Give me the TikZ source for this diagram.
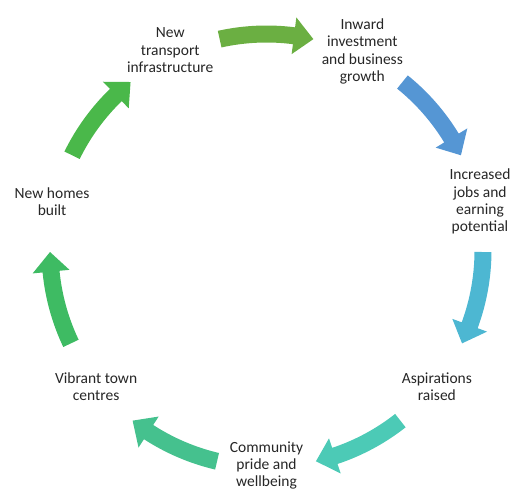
\documentclass[tikz,border=0pt]{standalone}
\usepackage{fontspec}
\setmainfont{Carlito}
\usetikzlibrary{calc}

\definecolor{arrowA}{HTML}{6BAF42}
\definecolor{arrowB}{HTML}{5596D4}
\definecolor{arrowC}{HTML}{4DB7D2}
\definecolor{arrowD}{HTML}{4CCAB6}
\definecolor{arrowE}{HTML}{45C18E}
\definecolor{arrowF}{HTML}{3EBB63}
\definecolor{arrowG}{HTML}{4AB84A}

\tikzstyle{stage} = [text=black!85, align=center, inner sep=1pt,
  font=\fontsize{15.5}{17.4}\selectfont]

% block arrow along the ring: colour, tail angle, tip angle
\newcommand{\cyclearrow}[3]{%
  \fill [#1] ($(c)+(#2:225)$) arc [start angle=#2, end angle=#3+5.2, radius=225]
    -- ($(c)+(#3+5.2:235)$) -- ($(c)+(#3:216.5)$) -- ($(c)+(#3+5.2:198)$)
    -- ($(c)+(#3+5.2:208)$) arc [start angle=#3+5.2, end angle=#2, radius=208] -- cycle;}

\begin{document}
\begin{tikzpicture}[x=1pt,y=1pt]

  \useasboundingbox (0,0) rectangle (512,491);
  \coordinate (c) at (266.5,240.5);

  \node [stage] (community) at ($(c)+(270:215)$) {Community\\pride and\\wellbeing};
  \node [stage] (aspire) at ($(c)+(321.4:218)$) {Aspirations\\raised};
  \node [stage] (jobs) at ($(c)+(12.9:219)$) {Increased\\jobs and\\earning\\potential};
  \node [stage] (invest) at ($(c)+(64.3:221)$) {Inward\\investment\\and business\\growth};
  \node [stage] (transport) at ($(c)+(115.7:222)$) {New\\transport\\infrastructure};
  \node [stage] (homes) at ($(c)+(167.1:220)$) {New homes\\built};
  \node [stage] (towns) at ($(c)+(218.6:218)$) {Vibrant town\\centres};

  \cyclearrow{arrowA}{102.5}{77.5}
  \cyclearrow{arrowB}{51.1}{26.1}
  \cyclearrow{arrowC}{359.6}{334.6}
  \cyclearrow{arrowD}{308.2}{283.2}
  \cyclearrow{arrowE}{256.8}{231.8}
  \cyclearrow{arrowF}{205.4}{180.4}
  \cyclearrow{arrowG}{153.9}{128.9}

\end{tikzpicture}
\end{document}
